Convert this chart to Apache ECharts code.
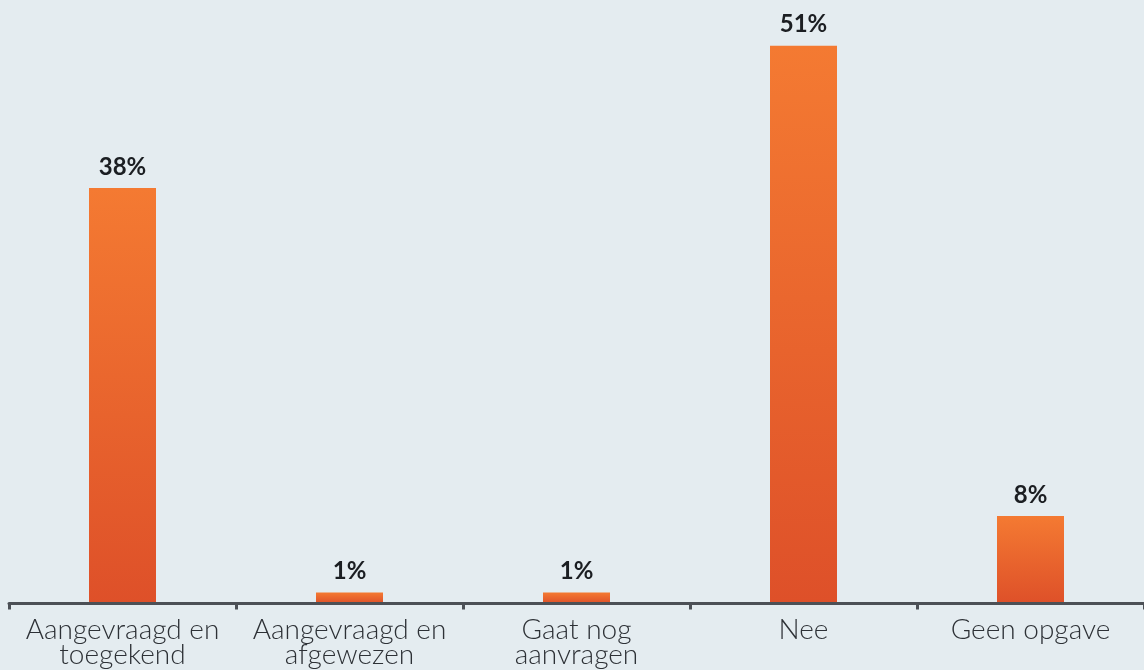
<!DOCTYPE html>
<html>
<head>
<meta charset="utf-8">
<style>
  html, body { margin: 0; padding: 0; background: #e4ecf0; }
  #chart { width: 1144px; height: 670px; }
</style>
<script src="https://cdn.jsdelivr.net/npm/echarts@6/dist/echarts.min.js"></script>
</head>
<body>
<div id="chart"></div>
<script>
// Answer categories (Dutch) and share of respondents in percent
const categories = [
  'Aangevraagd en\ntoegekend',
  'Aangevraagd en\nafgewezen',
  'Gaat nog\naanvragen',
  'Nee',
  'Geen opgave'
];
const shares = [38, 1, 1, 51, 8];

const chart = echarts.init(document.getElementById('chart'));

chart.setOption({
  backgroundColor: '#e4ecf0',
  animation: false,
  grid: { left: 9, right: -3, top: 2, bottom: 66.5, containLabel: false },
  xAxis: {
    type: 'category',
    data: categories,
    z: 5,
    axisLine: { lineStyle: { color: '#4c5056', width: 3 } },
    axisTick: { show: true, length: 6, lineStyle: { color: '#4c5056', width: 3 } },
    axisLabel: {
      color: '#2d3136',
      fontFamily: 'Lato',
      fontWeight: 300,
      fontSize: 28,
      lineHeight: 25,
      margin: 14,
      interval: 0
    }
  },
  yAxis: {
    type: 'value',
    min: 0,
    max: 55,
    show: false,
    splitLine: { show: false }
  },
  series: [{
    type: 'bar',
    data: shares,
    barWidth: 67,
    itemStyle: {
      color: new echarts.graphic.LinearGradient(0, 0, 0, 1, [
        { offset: 0, color: '#f47a32' },
        { offset: 1, color: '#de5029' }
      ])
    },
    label: {
      show: true,
      position: 'top',
      distance: 9,
      formatter: '{c}%',
      color: '#1b1e22',
      fontFamily: 'Lato',
      fontWeight: 'bold',
      fontSize: 24
    }
  }]
});
</script>
</body>
</html>
